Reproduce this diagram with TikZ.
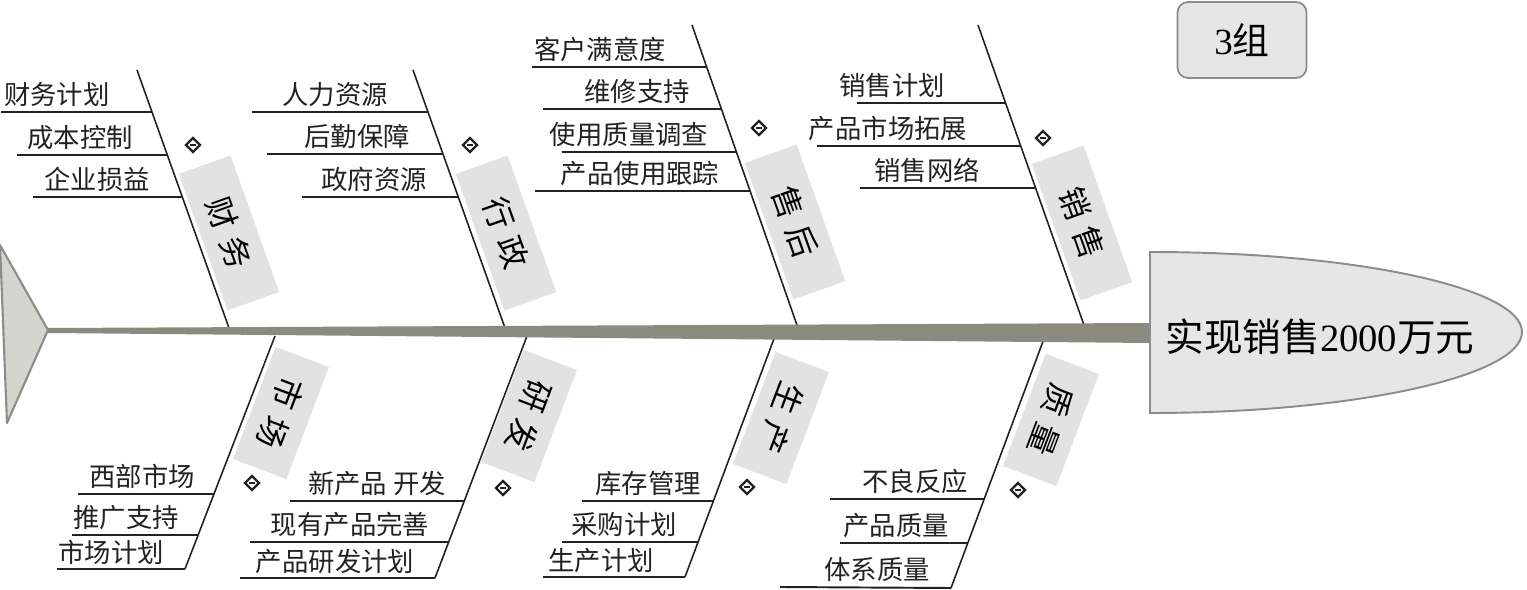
\documentclass[tikz,border=0pt]{standalone}
\usepackage{fontspec}
\setmainfont{Liberation Serif}
\newfontfamily\cjk{Noto Sans CJK SC}
\usetikzlibrary{shapes.geometric}

\definecolor{spinegray}{HTML}{8A8A7E}
\definecolor{tailgray}{HTML}{D5D5D0}
\definecolor{edgegray}{HTML}{8C8C88}
\definecolor{headgray}{HTML}{E6E6E6}
\definecolor{tabgray}{HTML}{E2E2E2}
\definecolor{inkgray}{HTML}{222222}

\begin{document}
\begin{tikzpicture}[
  x=0.02cm, y=-0.02cm,
  font=\fontsize{15}{18}\selectfont\cjk,
  bone/.style={draw=inkgray, line width=0.9pt},
  sub/.style={draw=inkgray, line width=1.1pt},
  cause/.style={anchor=base, inner sep=0pt, text=inkgray},
  tabup/.style={fill=tabgray, rotate=-70.4, minimum width=2.9cm, minimum height=1.1cm,
                inner sep=0pt, font=\fontsize{18}{20}\selectfont\cjk},
  tabdn/.style={fill=tabgray, rotate=-110.8, minimum width=2.4cm, minimum height=1.14cm,
                inner sep=0pt, font=\fontsize{18}{20}\selectfont\cjk},
  dia/.style={diamond, draw=inkgray, fill=white, line width=1.3pt, inner sep=0pt, minimum size=0.3cm,
              path picture={\draw[line width=0.9pt] ([xshift=-1.5pt]path picture bounding box.center)
                -- ([xshift=1.5pt]path picture bounding box.center);}},
  grp/.style={draw=edgegray, fill=headgray, line width=1pt, rounded corners=6pt,
               minimum width=2.58cm, minimum height=1.52cm, font=\fontsize{21}{24}\selectfont\cjk}
]
\useasboundingbox (0,0) rectangle (1527,590);

% labels behind the bones
\node[tabup] (cwtab) at (229,233) {财\hspace{0.3em}务};
\node[tabup] (xztab) at (506,233) {行\hspace{0.3em}政};
\node[tabup] (shtab) at (795,222) {售\hspace{0.3em}后};
\node[tabup] (xstab) at (1082,223) {销\hspace{0.3em}售};
\node[tabdn] (sctab) at (281,413) {市\hspace{0.3em}场};
\node[tabdn] (yftab) at (529,416) {研\hspace{0.3em}发};
\node[tabdn] (sptab) at (781,418) {生\hspace{0.3em}产};
\node[tabdn] (zltab) at (1051,420) {质\hspace{0.3em}量};

% upper bones
\coordinate (cwT) at (137,70);  \coordinate (cwB) at (229,328);
\coordinate (xzT) at (413,70);  \coordinate (xzB) at (505,328);
\coordinate (shT) at (692,25);  \coordinate (shB) at (798,328);
\coordinate (xsT) at (978,25);  \coordinate (xsB) at (1085,328);
\draw[bone] (cwT) -- (cwB);
\draw[bone] (xzT) -- (xzB);
\draw[bone] (shT) -- (shB);
\draw[bone] (xsT) -- (xsB);

% lower bones
\coordinate (scT) at (275,336); \coordinate (scB) at (185,569);
\coordinate (yfT) at (527,336); \coordinate (yfB) at (435,578);
\coordinate (spT) at (775,336); \coordinate (spB) at (685,577);
\coordinate (zlT) at (1045,336); \coordinate (zlB) at (951,588);
\draw[bone] (scT) -- (scB);
\draw[bone] (yfT) -- (yfB);
\draw[bone] (spT) -- (spB);
\draw[bone] (zlT) -- (zlB);

% 财务
\node[cause] (cw1) at (57,105) {财务计划};
\draw[sub] (1,112) -- (intersection of 0,112--1,112 and cwT--cwB);
\node[cause] (cw2) at (80,148) {成本控制};
\draw[sub] (17,155) -- (intersection of 0,155--1,155 and cwT--cwB);
\node[cause] (cw3) at (97,190) {企业损益};
\draw[sub] (33,197) -- (intersection of 0,197--1,197 and cwT--cwB);
\node[dia] (cwd) at (193,145) {};

% 行政
\node[cause] (xz1) at (335,105) {人力资源};
\draw[sub] (252,112) -- (intersection of 0,112--1,112 and xzT--xzB);
\node[cause] (xz2) at (357,147) {后勤保障};
\draw[sub] (267,154) -- (intersection of 0,154--1,154 and xzT--xzB);
\node[cause] (xz3) at (374,190) {政府资源};
\draw[sub] (302,197) -- (intersection of 0,197--1,197 and xzT--xzB);
\node[dia] (xzd) at (470,145) {};

% 售后
\node[cause] (sh1) at (600,60) {客户满意度};
\draw[sub] (532,67) -- (intersection of 0,67--1,67 and shT--shB);
\node[cause] (sh2) at (637,102) {维修支持};
\draw[sub] (543,109) -- (intersection of 0,109--1,109 and shT--shB);
\node[cause] (sh3) at (629,145) {使用质量调查};
\draw[sub] (562,152) -- (intersection of 0,152--1,152 and shT--shB);
\node[cause] (sh4) at (640,184) {产品使用跟踪};
\draw[sub] (535,191) -- (intersection of 0,191--1,191 and shT--shB);
\node[dia] (shd) at (759,128) {};

% 销售
\node[cause] (xs1) at (892,96) {销售计划};
\draw[sub] (857,103) -- (intersection of 0,103--1,103 and xsT--xsB);
\node[cause] (xs2) at (888,139) {产品市场拓展};
\draw[sub] (817,146) -- (intersection of 0,146--1,146 and xsT--xsB);
\node[cause] (xs3) at (927,181) {销售网络};
\draw[sub] (860,188) -- (intersection of 0,188--1,188 and xsT--xsB);
\node[dia] (xsd) at (1043,138) {};

% 市场
\node[cause] (sc1) at (142,487) {西部市场};
\draw[sub] (78,494) -- (intersection of 0,494--1,494 and scT--scB);
\node[cause] (sc2) at (126,528) {推广支持};
\draw[sub] (72,535) -- (intersection of 0,535--1,535 and scT--scB);
\node[cause] (sc3) at (111,562) {市场计划};
\draw[sub] (57,569) -- (scB);
\node[dia] (scd) at (252,483) {};

% 研发
\node[cause] (yf1) at (377,494) {新产品 开发};
\draw[sub] (290,501) -- (intersection of 0,501--1,501 and yfT--yfB);
\node[cause] (yf2) at (350,535) {现有产品完善};
\draw[sub] (250,542) -- (intersection of 0,542--1,542 and yfT--yfB);
\node[cause] (yf3) at (335,571) {产品研发计划};
\draw[sub] (240,578) -- (yfB);
\node[dia] (yfd) at (503,488) {};

% 生产
\node[cause] (sp1) at (648,494) {库存管理};
\draw[sub] (582,501) -- (intersection of 0,501--1,501 and spT--spB);
\node[cause] (sp2) at (624,535) {采购计划};
\draw[sub] (562,542) -- (intersection of 0,542--1,542 and spT--spB);
\node[cause] (sp3) at (601,570) {生产计划};
\draw[sub] (543,577) -- (spB);
\node[dia] (spd) at (747,487) {};

% 质量
\node[cause] (zl1) at (915,492) {不良反应};
\draw[sub] (830,499) -- (intersection of 0,499--1,499 and zlT--zlB);
\node[cause] (zl2) at (896,536) {产品质量};
\draw[sub] (840,543) -- (intersection of 0,543--1,543 and zlT--zlB);
\node[cause] (zl3) at (877,580) {体系质量};
\draw[sub] (780,587) -- (zlB);
\node[dia] (zld) at (1018,490) {};

% spine, tail and head
\fill[spinegray] (48,328) -- (1150,323) -- (1150,343) -- (48,333) -- cycle;
\draw[draw=edgegray, fill=tailgray, line width=1.2pt, line join=round] (0,245) -- (48,330) -- (7,423) -- cycle;
\draw[draw=edgegray, fill=headgray, line width=1.1pt]
  (1150,252) .. controls (1355,252) and (1522,288) .. (1522,332)
  .. controls (1522,376) and (1355,413) .. (1150,413) -- cycle;
\node[font=\fontsize{22}{26}\selectfont\cjk] (goal) at (1320,337) {实现销售\rmfamily 2000\cjk 万元};

\node[grp] (grp) at (1242,40) {\rmfamily 3\cjk 组};
\end{tikzpicture}
\end{document}
